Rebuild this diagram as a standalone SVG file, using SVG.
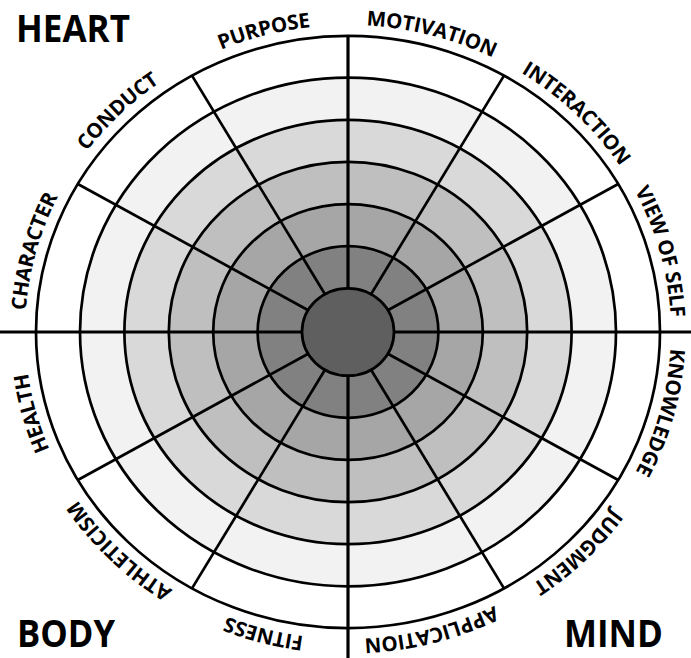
<svg xmlns="http://www.w3.org/2000/svg" width="691" height="658" viewBox="0 0 691 658">
<style>
.ring{stroke:#000;stroke-width:2.7}
.ln{stroke:#000;stroke-width:2.7;stroke-linecap:butt}
.ax{stroke:#000;stroke-width:3.2}
.lbl{font-family:"Open Sans","Liberation Sans",sans-serif;font-weight:700;font-size:20.5px;letter-spacing:-0.2px;fill:#000}
.big{font-family:"Open Sans","Liberation Sans",sans-serif;font-weight:700;font-size:37px;fill:#000}
</style>
<defs>
<path id="p-purpose" d="M153.6,86.8 A323,307 0 0 1 387.4,27.3"/>
<path id="p-motivation" d="M308.6,27.3 A323,307 0 0 1 542.4,86.8"/>
<path id="p-interaction" d="M474.2,49.4 A323,307 0 0 1 645.3,212.1"/>
<path id="p-viewofself" d="M605.9,147.2 A323,307 0 0 1 668.6,369.4"/>
<path id="p-knowledge" d="M668.6,294.6 A323,307 0 0 1 605.9,516.8"/>
<path id="p-judgment" d="M645.3,451.9 A323,307 0 0 1 474.2,614.6"/>
<path id="p-application" d="M542.4,577.2 A323,307 0 0 1 308.6,636.7"/>
<path id="p-fitness" d="M387.4,636.7 A323,307 0 0 1 153.6,577.2"/>
<path id="p-athleticism" d="M221.8,614.6 A323,307 0 0 1 50.7,451.9"/>
<path id="p-health" d="M90.1,516.8 A323,307 0 0 1 27.4,294.6"/>
<path id="p-character" d="M27.4,369.4 A323,307 0 0 1 90.1,147.2"/>
<path id="p-conduct" d="M50.7,212.1 A323,307 0 0 1 221.8,49.4"/>
</defs>
<g id="wheel">
<ellipse class="ring" cx="348" cy="332" rx="312" ry="296.1" fill="#ffffff"/>
<ellipse class="ring" cx="348" cy="332" rx="268" ry="254.3" fill="#f2f2f2"/>
<ellipse class="ring" cx="348" cy="332" rx="223.6" ry="212.2" fill="#d9d9d9"/>
<ellipse class="ring" cx="348" cy="332" rx="179.2" ry="170.1" fill="#bfbfbf"/>
<ellipse class="ring" cx="348" cy="332" rx="134.8" ry="127.9" fill="#a6a6a6"/>
<ellipse class="ring" cx="348" cy="332" rx="90.4" ry="85.8" fill="#818181"/>
</g>
<g id="connectors">
<line class="ax" x1="348" y1="36" x2="348" y2="658"/>
<line class="ax" x1="0" y1="332" x2="691" y2="332"/>
<line class="ln" x1="371" y1="294.2" x2="504" y2="75.6"/>
<line class="ln" x1="387.8" y1="310.2" x2="618.2" y2="184"/>
<line class="ln" x1="387.8" y1="353.8" x2="618.2" y2="480"/>
<line class="ln" x1="371" y1="369.8" x2="504" y2="588.4"/>
<line class="ln" x1="325" y1="369.8" x2="192" y2="588.4"/>
<line class="ln" x1="308.2" y1="353.8" x2="77.8" y2="480"/>
<line class="ln" x1="308.2" y1="310.2" x2="77.8" y2="184"/>
<line class="ln" x1="325" y1="294.2" x2="192" y2="75.6"/>
</g>
<g id="center">
<ellipse class="ring" cx="348" cy="332" rx="46" ry="43.7" fill="#5f5f5f"/>
</g>
<g id="label-purpose"><text class="lbl"><textPath href="#p-purpose" startOffset="50%" text-anchor="middle">PURPOSE</textPath></text></g>
<g id="label-motivation"><text class="lbl"><textPath href="#p-motivation" startOffset="50%" text-anchor="middle">MOTIVATION</textPath></text></g>
<g id="label-interaction"><text class="lbl"><textPath href="#p-interaction" startOffset="50%" text-anchor="middle">INTERACTION</textPath></text></g>
<g id="label-viewofself"><text class="lbl"><textPath href="#p-viewofself" startOffset="50%" text-anchor="middle">VIEW OF SELF</textPath></text></g>
<g id="label-knowledge"><text class="lbl"><textPath href="#p-knowledge" startOffset="50%" text-anchor="middle">KNOWLEDGE</textPath></text></g>
<g id="label-judgment"><text class="lbl"><textPath href="#p-judgment" startOffset="50%" text-anchor="middle">JUDGMENT</textPath></text></g>
<g id="label-application"><text class="lbl"><textPath href="#p-application" startOffset="50%" text-anchor="middle">APPLICATION</textPath></text></g>
<g id="label-fitness"><text class="lbl"><textPath href="#p-fitness" startOffset="50%" text-anchor="middle">FITNESS</textPath></text></g>
<g id="label-athleticism"><text class="lbl"><textPath href="#p-athleticism" startOffset="50%" text-anchor="middle">ATHLETICISM</textPath></text></g>
<g id="label-health"><text class="lbl"><textPath href="#p-health" startOffset="50%" text-anchor="middle">HEALTH</textPath></text></g>
<g id="label-character"><text class="lbl"><textPath href="#p-character" startOffset="50%" text-anchor="middle">CHARACTER</textPath></text></g>
<g id="label-conduct"><text class="lbl"><textPath href="#p-conduct" startOffset="50%" text-anchor="middle">CONDUCT</textPath></text></g>
<g id="title-heart"><text class="big" x="16" y="42" textLength="114" lengthAdjust="spacingAndGlyphs">HEART</text></g>
<g id="title-body"><text class="big" x="17" y="647" textLength="98" lengthAdjust="spacingAndGlyphs">BODY</text></g>
<g id="title-mind"><text class="big" x="564" y="647" textLength="99" lengthAdjust="spacingAndGlyphs">MIND</text></g>
</svg>
